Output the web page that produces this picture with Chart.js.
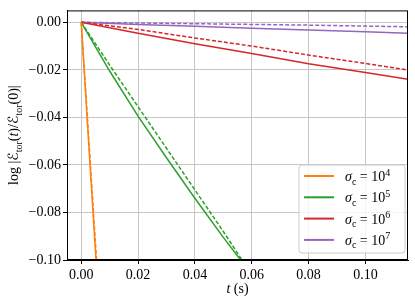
<!DOCTYPE html>
<html>
<head>
<meta charset="utf-8">
<script src="https://cdn.jsdelivr.net/npm/chart.js@4"></script>
<style>
  html, body { margin: 0; padding: 0; background: #ffffff; }
  #wrap { width: 415px; height: 305px; }
</style>
</head>
<body>
<div id="wrap"><canvas id="chart" width="415" height="305"></canvas></div>
<script>
// --- data ---
const xTicks = [0, 0.02, 0.04, 0.06, 0.08, 0.10];
const yTicks = [0, -0.02, -0.04, -0.06, -0.08, -0.10];
const sigmaExps = ['4', '5', '6', '7'];

const orangeT = [0, 0.0052];
const orangeY = [0, -0.100];
const orangeDashT = [0, 0.0054];
const orangeDashY = [0, -0.100];

const greenT = [0, 0.01, 0.02, 0.03, 0.04, 0.05, 0.0561];
const greenY = [0, -0.0205, -0.0395, -0.0570, -0.0740, -0.0905, -0.1000];
const greenDashT = [0, 0.01, 0.02, 0.03, 0.04, 0.05, 0.0566];
const greenDashY = [0, -0.0180, -0.0355, -0.0530, -0.0705, -0.0880, -0.1000];

const longT = [0, 0.02, 0.04, 0.06, 0.08, 0.10, 0.115];
const redY = [0, -0.0046, -0.0090, -0.0131, -0.0174, -0.0211, -0.0240];
const redDashY = [0, -0.0030, -0.0066, -0.0100, -0.0138, -0.0173, -0.0201];
const purpleY = [0, -0.0009, -0.0017, -0.0025, -0.0032, -0.0040, -0.0046];
const purpleDashY = [0, -0.0003, -0.0006, -0.0009, -0.0012, -0.0016, -0.0019];

const ORANGE = '#ff7f0e', GREEN = '#2ca02c', RED = '#d62728', PURPLE = '#9467bd';
const FONT = "'Liberation Serif', 'DejaVu Serif', serif";
const GRID = '#c6c6c6';

function pts(ts, ys) {
  return ts.map((t, i) => ({ x: t, y: ys[i] }));
}

function line(label, ts, ys, color, dashed) {
  return {
    label: label,
    data: pts(ts, ys),
    borderColor: color,
    backgroundColor: color,
    borderWidth: 1.5,
    borderDash: dashed ? [4, 2] : [],
    pointRadius: 0,
    fill: false,
    tension: 0,
  };
}

function fmt(v) {
  const s = Math.abs(v) < 1e-9 ? '0.00' : v.toFixed(2);
  return s.replace('-', '\u2212');
}

// draw a run of text pieces: [text, {italic, sub, sup, family}]
function drawRich(ctx, parts, x, y, align) {
  const base = 14, small = 10;
  const fontOf = o => (o.italic ? 'italic ' : '') + ((o.sub || o.sup) ? small : base) + 'px ' + (o.family || FONT);
  let w = 0;
  parts.forEach(([t, o]) => { ctx.font = fontOf(o || {}); w += ctx.measureText(t).width; });
  let cx = align === 'center' ? x - w / 2 : x;
  ctx.textAlign = 'left';
  ctx.textBaseline = 'alphabetic';
  parts.forEach(([t, o]) => {
    o = o || {};
    ctx.font = fontOf(o);
    const dy = o.sub ? 3.5 : (o.sup ? -5.5 : 0);
    ctx.fillText(t, cx, y + dy);
    cx += ctx.measureText(t).width;
  });
}

const decorPlugin = {
  id: 'decor',
  afterDatasetsDraw(chart) {
    const ctx = chart.ctx;
    const a = chart.chartArea;
    ctx.save();
    // full frame like matplotlib spines
    ctx.strokeStyle = '#000';
    ctx.lineWidth = 1;
    ctx.strokeRect(a.left + 0.5, a.top + 0.5, a.right - a.left - 1, a.bottom - a.top - 1);

    // legend
    const bx = 299, by = 165, bw = 106, bh = 88, r = 3;
    ctx.beginPath();
    ctx.moveTo(bx + r, by);
    ctx.arcTo(bx + bw, by, bx + bw, by + bh, r);
    ctx.arcTo(bx + bw, by + bh, bx, by + bh, r);
    ctx.arcTo(bx, by + bh, bx, by, r);
    ctx.arcTo(bx, by, bx + bw, by, r);
    ctx.closePath();
    ctx.fillStyle = 'rgba(255,255,255,0.8)';
    ctx.fill();
    ctx.strokeStyle = '#cccccc';
    ctx.lineWidth = 1;
    ctx.stroke();

    const solids = chart.data.datasets.filter(d => !d.borderDash.length);
    solids.forEach((d, i) => {
      const yy = 176 + i * 21.3;
      ctx.strokeStyle = d.borderColor;
      ctx.lineWidth = 2;
      ctx.setLineDash([]);
      ctx.beginPath();
      ctx.moveTo(304, yy);
      ctx.lineTo(334, yy);
      ctx.stroke();
      ctx.fillStyle = '#000';
      drawRich(ctx, [['\u03c3', { italic: true }], ['c', { sub: true }], [' = 10'], [sigmaExps[i], { sup: true }]], 345, yy + 5, 'left');
    });

    // x axis title
    ctx.fillStyle = '#000';
    drawRich(ctx, [['t', { italic: true }], [' (s)']], (a.left + a.right) / 2, 293, 'center');

    // y axis title
    const script = { family: "'DejaVu Serif', 'DejaVu Sans', serif" };
    ctx.translate(18, (a.top + a.bottom) / 2);
    ctx.rotate(-Math.PI / 2);
    drawRich(ctx, [
      ['log |'], ['\u2130', script], ['tor', { sub: true }], ['('], ['t', { italic: true }], [')/'],
      ['\u2130', script], ['tor', { sub: true }], ['(0)|']
    ], 0, 0, 'center');
    ctx.restore();
  }
};

const tickFont = { family: FONT, size: 14 };

new Chart(document.getElementById('chart'), {
  type: 'line',
  data: {
    datasets: [
      line('sigma 1e4', orangeT, orangeY, ORANGE, false),
      line('sigma 1e4 dashed', orangeDashT, orangeDashY, ORANGE, true),
      line('sigma 1e5', greenT, greenY, GREEN, false),
      line('sigma 1e5 dashed', greenDashT, greenDashY, GREEN, true),
      line('sigma 1e6', longT, redY, RED, false),
      line('sigma 1e6 dashed', longT, redDashY, RED, true),
      line('sigma 1e7', longT, purpleY, PURPLE, false),
      line('sigma 1e7 dashed', longT, purpleDashY, PURPLE, true),
    ],
  },
  options: {
    responsive: false,
    animation: false,
    devicePixelRatio: 1,
    layout: { padding: { top: 6, right: 7, left: 0, bottom: 0 } },
    plugins: {
      legend: { display: false },
      tooltip: { enabled: false },
    },
    scales: {
      x: {
        type: 'linear',
        min: -0.005,
        max: 0.115,
        afterBuildTicks: s => { s.ticks = xTicks.map(v => ({ value: v })); },
        afterFit: s => { s.height = 45; },
        ticks: {
          callback: v => fmt(v),
          font: tickFont,
          color: '#000',
          padding: 3,
          maxRotation: 0,
          autoSkip: false,
        },
        grid: { color: GRID, lineWidth: 1, tickColor: '#000', tickLength: 4 },
        border: { display: true, color: '#000', width: 1 },
      },
      y: {
        type: 'linear',
        min: -0.1,
        max: 0.005,
        afterBuildTicks: s => { s.ticks = yTicks.map(v => ({ value: v })); },
        afterFit: s => { s.width = 67; },
        ticks: {
          callback: v => fmt(v),
          font: tickFont,
          color: '#000',
          padding: 2,
          autoSkip: false,
        },
        grid: { color: GRID, lineWidth: 1, tickColor: '#000', tickLength: 4 },
        border: { display: true, color: '#000', width: 1 },
      },
    },
  },
  plugins: [decorPlugin],
});
</script>
</body>
</html>
